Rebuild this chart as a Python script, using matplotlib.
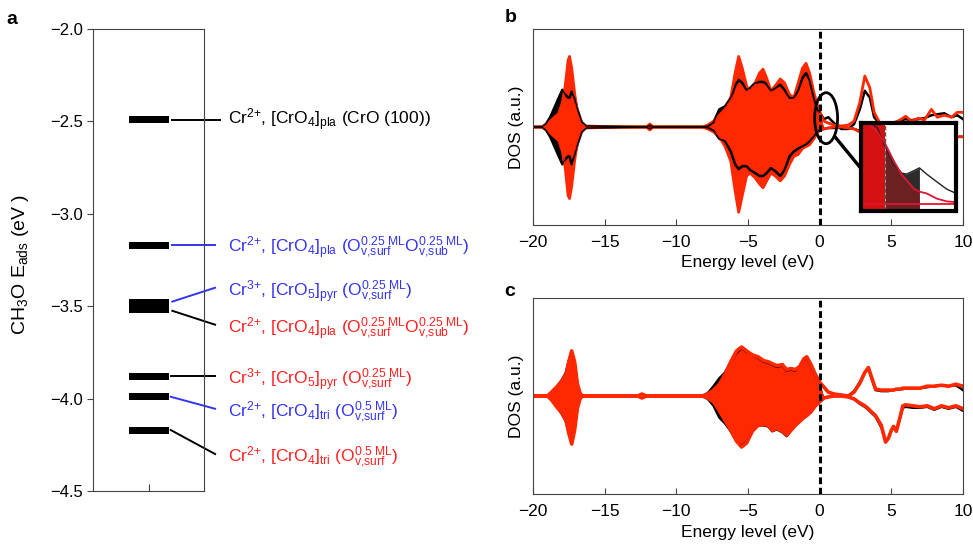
import numpy as np
import matplotlib.pyplot as plt
from matplotlib.patches import Ellipse

plt.rcParams['font.family'] = ['Liberation Sans', 'DejaVu Sans']
plt.rcParams['mathtext.fontset'] = 'custom'
plt.rcParams['mathtext.rm'] = 'Liberation Sans'
plt.rcParams['mathtext.it'] = 'Liberation Sans:italic'
plt.rcParams['mathtext.bf'] = 'Liberation Sans:bold'
plt.rcParams['mathtext.default'] = 'regular'

# panel a: CH3O adsorption energies (eV)
e_ads = [-2.49, -3.17, -3.48, -3.52, -3.88, -3.99, -4.17]
lab_pla = r"Cr$^{2{+}}$, [CrO$_4$]$_{pla}$ (O$_{v{,}surf}^{0.25\ ML}$O$_{v{,}sub}^{0.25\ ML}$)"
lab_pyr = r"Cr$^{3{+}}$, [CrO$_5$]$_{pyr}$ (O$_{v{,}surf}^{0.25\ ML}$)"
lab_tri = r"Cr$^{2{+}}$, [CrO$_4$]$_{tri}$ (O$_{v{,}surf}^{0.5\ ML}$)"
labels = [r"Cr$^{2{+}}$, [CrO$_4$]$_{pla}$ (CrO (100))", lab_pla, lab_pyr, lab_pla,
          lab_pyr, lab_tri, lab_tri]
BLUE, RED, BLK = '#3434f0', '#ff2020', 'black'
text_col = [BLK, BLUE, BLUE, RED, RED, BLUE, RED]
line_col = [BLK, BLUE, BLUE, BLK, BLK, BLUE, BLK]
# where the leader lines end / the labels sit
label_y = [-2.49, -3.18, -3.42, -3.62, -3.895, -4.07, -4.315]
line_end = [-2.49, -3.17, -3.40, -3.60, -3.88, -4.055, -4.30]
line_start = [-2.49, -3.17, -3.475, -3.525, -3.88, -3.99, -4.17]
yticks_a = [-4.5, -4.0, -3.5, -3.0, -2.5, -2.0]

# panel b DOS
e_b = [-20, -19.4, -19.1, -18.8, -18.5, -18.2, -17.95, -17.75, -17.55, -17.45,
       -17.3, -17.1, -16.9, -16.6, -16.3, -12.1, -11.85, -11.6, -8.2, -7.8,
       -7.4, -7.0, -6.6, -6.2, -5.9, -5.65, -5.4, -5.1, -4.85, -4.5,
       -4.2, -3.95, -3.7, -3.4, -3.1, -2.75, -2.45, -2.1, -1.8, -1.5,
       -1.2, -0.95, -0.7, -0.4, -0.15, 0.0, 0.3, 0.6, 1.0, 1.5,
       2.0, 2.4, 2.8, 3.15, 3.5, 3.8, 4.2, 4.8, 5.3, 5.7,
       6.0, 6.4, 6.9, 7.3, 7.8, 8.2, 8.7, 9.2, 9.6, 10.0]
red_up_b = [0, 0, 0.02, 0.06, 0.1, 0.14, 0.25, 0.42, 0.68, 0.72,
            0.6, 0.35, 0.15, 0.04, 0, 0, 0.03, 0, 0, 0.02,
            0.06, 0.12, 0.18, 0.3, 0.55, 0.72, 0.6, 0.42, 0.35, 0.45,
            0.55, 0.59, 0.5, 0.37, 0.42, 0.49, 0.45, 0.33, 0.3, 0.45,
            0.6, 0.65, 0.55, 0.35, 0.22, 0.15, 0.06, 0.04, 0.02, 0.01,
            0.02, 0.06, 0.25, 0.52, 0.4, 0.15, 0.04, 0.04, 0.05, 0.08,
            0.11, 0.06, 0.09, 0.07, 0.18, 0.1, 0.12, 0.1, 0.15, 0.15]
red_dn_b = [0, 0, -0.02, -0.06, -0.1, -0.14, -0.25, -0.42, -0.7, -0.73,
            -0.6, -0.35, -0.15, -0.04, 0, 0, -0.03, 0, 0, -0.02,
            -0.05, -0.1, -0.2, -0.35, -0.65, -0.87, -0.7, -0.5, -0.47, -0.52,
            -0.58, -0.62, -0.55, -0.47, -0.5, -0.55, -0.5, -0.38, -0.3, -0.28,
            -0.22, -0.2, -0.18, -0.12, -0.06, -0.03, -0.02, -0.01, 0, 0,
            -0.01, -0.02, -0.05, -0.08, -0.1, -0.1, -0.1, -0.1, -0.1, -0.1,
            -0.1, -0.1, -0.1, -0.1, -0.1, -0.1, -0.1, -0.1, -0.1, -0.1]
blk_up_b = [0, 0, 0.03, 0.1, 0.2, 0.3, 0.38, 0.33, 0.3, 0.3,
            0.36, 0.3, 0.18, 0.05, 0.01, 0, 0.02, 0, 0, 0.01,
            0.05, 0.18, 0.21, 0.3, 0.42, 0.48, 0.45, 0.38, 0.4, 0.45,
            0.46, 0.46, 0.44, 0.37, 0.4, 0.43, 0.38, 0.3, 0.3, 0.38,
            0.5, 0.55, 0.48, 0.3, 0.18, 0.15, 0.08, 0.1, 0.04, -0.02,
            -0.02, 0.03, 0.18, 0.37, 0.3, 0.1, 0.03, 0.04, 0.05, 0.07,
            0.08, 0.07, 0.08, 0.09, 0.12, 0.13, 0.14, 0.1, 0.12, 0.08]
blk_dn_b = [0, 0, -0.03, -0.1, -0.2, -0.3, -0.38, -0.33, -0.3, -0.3,
            -0.38, -0.3, -0.18, -0.05, -0.01, 0, -0.02, 0, 0, -0.01,
            -0.04, -0.12, -0.15, -0.25, -0.38, -0.43, -0.4, -0.4, -0.44, -0.47,
            -0.5, -0.5, -0.47, -0.42, -0.45, -0.5, -0.44, -0.3, -0.25, -0.22,
            -0.2, -0.18, -0.15, -0.1, -0.05, -0.03, -0.02, -0.01, -0.01, 0,
            -0.01, -0.02, -0.04, -0.06, -0.08, -0.09, -0.1, -0.1, -0.1, -0.1,
            -0.1, -0.1, -0.1, -0.1, -0.1, -0.1, -0.1, -0.1, -0.1, -0.1]

# inset of panel b (zoom near the Fermi level, arbitrary units)
ins_x = [0.0, 0.1, 0.17, 0.255, 0.34, 0.43, 0.48, 0.52, 0.56, 0.615, 0.69, 0.8, 0.9, 1.0]
ins_red = [1.05, 0.97, 0.9, 0.765, 0.58, 0.41, 0.35, 0.3, 0.25, 0.22, 0.2, 0.14, 0.11, 0.1]
ins_blk = [1.05, 1.0, 0.95, 0.73, 0.54, 0.43, 0.42, 0.44, 0.46, 0.49, 0.42, 0.33, 0.25, 0.2]

# panel c DOS
e_c = [-20, -19.0, -18.7, -18.3, -18.0, -17.7, -17.5, -17.3, -17.1, -16.9,
       -16.7, -16.5, -12.7, -12.4, -12.1, -8.2, -7.8, -7.4, -7.0, -6.6,
       -6.2, -5.8, -5.45, -5.1, -4.7, -4.3, -3.9, -3.6, -3.3, -3.0,
       -2.6, -2.3, -2.0, -1.7, -1.4, -1.1, -0.9, -0.6, -0.3, 0.0,
       0.3, 0.6, 1.0, 1.5, 2.0, 2.4, 2.8, 3.15, 3.4, 3.6,
       3.9, 4.3, 4.6, 4.8, 5.0, 5.15, 5.35, 5.6, 5.8, 6.0,
       6.5, 7.0, 7.5, 8.0, 8.5, 9.0, 9.5, 10.0]
red_up_c = [0, 0, 0.04, 0.1, 0.15, 0.22, 0.35, 0.46, 0.35, 0.12,
            0.02, 0, 0, 0.02, 0, 0, 0.02, 0.06, 0.12, 0.22,
            0.35, 0.46, 0.5, 0.46, 0.42, 0.4, 0.36, 0.35, 0.33, 0.31,
            0.32, 0.27, 0.28, 0.27, 0.3, 0.38, 0.4, 0.32, 0.22, 0.14,
            0.09, 0.04, 0.02, 0.01, 0.0, 0.04, 0.13, 0.24, 0.29, 0.2,
            0.07, 0.06, 0.06, 0.06, 0.06, 0.06, 0.07, 0.07, 0.08, 0.08,
            0.08, 0.08, 0.1, 0.1, 0.11, 0.1, 0.12, 0.1]
red_dn_c = [0, 0, -0.04, -0.12, -0.17, -0.25, -0.38, -0.49, -0.35, -0.12,
            -0.02, 0, 0, -0.02, 0, 0, -0.02, -0.06, -0.15, -0.25,
            -0.35, -0.46, -0.52, -0.48, -0.36, -0.3, -0.29, -0.3, -0.35, -0.33,
            -0.36, -0.4, -0.35, -0.3, -0.26, -0.22, -0.2, -0.16, -0.1, -0.06,
            -0.02, -0.01, 0.0, 0.0, -0.01, -0.03, -0.07, -0.1, -0.13, -0.16,
            -0.2, -0.3, -0.47, -0.43, -0.35, -0.31, -0.36, -0.22, -0.1, -0.09,
            -0.1, -0.11, -0.1, -0.13, -0.1, -0.12, -0.1, -0.13]
blk_up_c = [0, 0, 0.04, 0.1, 0.16, 0.24, 0.36, 0.45, 0.34, 0.12,
            0.02, 0, 0, 0.02, 0, 0, 0.03, 0.1, 0.18, 0.24,
            0.35, 0.44, 0.49, 0.45, 0.42, 0.39, 0.35, 0.34, 0.32, 0.3,
            0.31, 0.26, 0.27, 0.26, 0.3, 0.37, 0.39, 0.31, 0.21, 0.14,
            0.09, 0.04, 0.02, 0.01, 0.0, 0.05, 0.14, 0.24, 0.28, 0.19,
            0.06, 0.05, 0.05, 0.05, 0.06, 0.06, 0.07, 0.07, 0.07, 0.08,
            0.08, 0.08, 0.09, 0.1, 0.11, 0.1, 0.11, 0.06]
blk_dn_c = [0, 0, -0.04, -0.12, -0.18, -0.26, -0.38, -0.48, -0.34, -0.12,
            -0.02, 0, 0, -0.02, 0, 0, -0.03, -0.1, -0.22, -0.28,
            -0.36, -0.46, -0.51, -0.47, -0.36, -0.3, -0.3, -0.31, -0.36, -0.34,
            -0.37, -0.41, -0.35, -0.3, -0.26, -0.22, -0.2, -0.16, -0.1, -0.06,
            -0.02, -0.01, 0.0, 0.0, -0.01, -0.03, -0.08, -0.11, -0.14, -0.17,
            -0.21, -0.32, -0.47, -0.43, -0.35, -0.32, -0.36, -0.23, -0.12, -0.11,
            -0.12, -0.12, -0.11, -0.14, -0.11, -0.13, -0.11, -0.15]

DOS_RED = '#ff2800'
SPINE = '#444444'
W, H = 973, 545


def px_axes(x0, y0, x1, y1):
    return fig.add_axes([x0 / W, (H - y1) / H, (x1 - x0) / W, (y1 - y0) / H])


fig = plt.figure(figsize=(9.73, 5.45), dpi=100)

# ---- panel a
ax = px_axes(93, 29, 204, 491)
ax.set_xlim(0, 1)
ax.set_ylim(-4.5, -2.0)
ax.barh(e_ads, 0.365, left=0.322, height=0.038, color='black')
for i in range(len(e_ads)):
    x0 = 0.70 if i >= 4 else 0.715
    x1 = 1.14 if i == 0 else 1.10
    ax.plot([x0, x1], [line_start[i], line_end[i]], color=line_col[i], lw=1.4,
            clip_on=False)
    ax.text(1.215, label_y[i], labels[i], color=text_col[i], fontsize=12.5,
            va='center', ha='left', clip_on=False)
ax.set_yticks(yticks_a)
ax.set_yticklabels([('%.1f' % v).replace('-', '\u2212') for v in yticks_a])
ax.set_xticks([0.5])
ax.set_xticklabels([])
ax.tick_params(axis='y', direction='out', labelsize=12, length=4, color=SPINE)
ax.tick_params(axis='x', direction='in', length=5, color=SPINE)
ax.set_ylabel(r"CH$_3$O E$_{ads}$ (eV )", fontsize=14)
ax.yaxis.set_label_coords(-0.56, 0.49)
for s in ax.spines.values():
    s.set_color(SPINE)
fig.text(12 / W, 1 - 20 / H, 'a', fontsize=14, fontweight='bold', ha='center', va='center')


def dos_panel(ax, e, rup, rdn, bup, bdn, red_lw):
    e = np.array(e)
    occ = e <= 0
    ax.fill_between(e, bdn, bup, where=occ, color='black', lw=0, interpolate=True)
    ax.plot(e, bup, color='black', lw=1.8)
    ax.plot(e, bdn, color='black', lw=1.8)
    ax.fill_between(e, rdn, rup, where=occ, color=DOS_RED, lw=0, interpolate=True)
    ax.plot(e, rup, color=DOS_RED, lw=red_lw)
    ax.plot(e, rdn, color=DOS_RED, lw=red_lw)
    ax.axvline(0, color='black', lw=2.2, ls=(0, (2.2, 1.2)), zorder=5)
    ax.set_xlim(-20, 10)
    ax.set_ylim(-1, 1)
    ax.set_yticks([])
    ax.set_xticks(range(-20, 11, 5))
    ax.tick_params(axis='x', direction='in', labelsize=12.5, length=4, color=SPINE, pad=7)
    ax.set_xlabel('Energy level (eV)', fontsize=12.5)
    ax.set_ylabel('DOS (a.u.)', fontsize=12.5)
    ax.yaxis.set_label_coords(-0.022, 0.5)
    for s in ax.spines.values():
        s.set_color(SPINE)


# ---- panel b
axb = px_axes(533, 29, 963, 225)
dos_panel(axb, e_b, red_up_b, red_dn_b, blk_up_b, blk_dn_b, 2.0)
eb = np.array(e_b)
occ_b = eb <= 0.1
axb.plot(eb[occ_b], np.array(blk_up_b)[occ_b], color='black', lw=0.9)
axb.plot(eb[occ_b], np.array(blk_dn_b)[occ_b], color='black', lw=0.9)
axb.xaxis.set_label_coords(0.5, -0.155)
axb.add_patch(Ellipse((0.45, 0.09), 1.6, 0.52, fill=False, ec='black', lw=2, zorder=6))
axb.plot([1.07, 2.75], [-0.1, -0.4], color='black', lw=2.4, zorder=6, clip_on=False)
fig.text(511 / W, 1 - 18 / H, 'b', fontsize=14, fontweight='bold', ha='center', va='center')

ins = px_axes(861, 123, 956, 211)
ins.set_zorder(10)
ins.set_xlim(0, 1)
ins.set_ylim(0, 1)
ix = np.array(ins_x)
ins.fill_between(ix, 0, ins_blk, where=(ix >= 0.25) & (ix <= 0.615), color='#2c2c2c', lw=0)
ins.fill_between(ix, 0, ins_red, where=(ix >= 0.25) & (ix <= 0.615), color='#a01818',
                 alpha=0.55, lw=0)
ins.fill_between(ix, 0, 1.1, where=ix <= 0.255, color='#d41010', lw=0)
ins.plot(ix, ins_blk, color='#222222', lw=1.0)
ins.plot(ix, ins_red, color='#e01530', lw=1.3)
ins.axhline(0.08, color='#e01530', lw=1.3)
ins.axvline(0.255, color='#555555', lw=1.0, ls=(0, (3, 1.5)))
ins.set_xticks([])
ins.set_yticks([])
for s in ins.spines.values():
    s.set_linewidth(3)
    s.set_color('black')

# ---- panel c
axc = px_axes(533, 298, 963, 494)
dos_panel(axc, e_c, red_up_c, red_dn_c, blk_up_c, blk_dn_c, 2.6)
axc.xaxis.set_label_coords(0.5, -0.16)
fig.text(510 / W, 1 - 292 / H, 'c', fontsize=14, fontweight='bold', ha='center', va='center')

fig.savefig('out.png', dpi=100)
